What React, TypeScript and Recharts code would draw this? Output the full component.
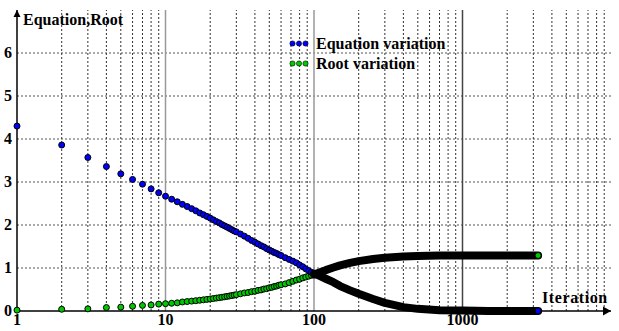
import React from "react";
import {
  ScatterChart,
  Scatter,
  XAxis,
  YAxis,
  ReferenceLine,
  ReferenceDot,
} from "recharts";

// iterations where the dots are still told apart (1 .. 100)
const ITER_DENSE = [
  1, 2, 3, 4, 5, 6, 7, 8, 9, 10, 11, 12, 13, 14, 15, 16, 17, 18, 19, 20, 21, 22, 23, 24, 25, 26, 27, 28, 29, 30,
  32, 34, 36, 38, 40, 42, 44, 46, 48, 50, 52, 54, 56, 58, 60,
  64, 68, 72, 76, 80, 84, 88, 92, 96, 100,
];
const EQ_DENSE = [
  4.3, 3.86, 3.57, 3.36, 3.19, 3.06, 2.95, 2.84, 2.75, 2.67, 2.6, 2.54, 2.48, 2.43, 2.38, 2.33, 2.28, 2.24, 2.2, 2.16,
  2.12, 2.08, 2.05, 2.01, 1.98, 1.95, 1.92, 1.89, 1.86, 1.84,
  1.79, 1.74, 1.69, 1.64, 1.6, 1.56, 1.52, 1.49, 1.45, 1.42, 1.39, 1.36, 1.34, 1.31, 1.29,
  1.24, 1.2, 1.16, 1.12, 1.07, 1.03, 0.98, 0.94, 0.9, 0.87,
];
const ROOT_DENSE = [
  0.02, 0.04, 0.05, 0.08, 0.09, 0.11, 0.13, 0.14, 0.16, 0.17, 0.18, 0.19, 0.21, 0.22, 0.23, 0.24, 0.25, 0.26, 0.27, 0.28,
  0.29, 0.3, 0.31, 0.32, 0.33, 0.34, 0.35, 0.36, 0.37, 0.38,
  0.4, 0.42, 0.43, 0.45, 0.46, 0.48, 0.49, 0.51, 0.52, 0.54, 0.55, 0.57, 0.58, 0.6, 0.61,
  0.63, 0.66, 0.69, 0.72, 0.74, 0.77, 0.79, 0.81, 0.83, 0.85,
];

// beyond 100 the markers merge into a solid black band
const ITER_TAIL = [100, 110, 120, 135, 150, 175, 200, 250, 300, 400, 500, 700, 1000, 1500, 2000, 3230];
const EQ_TAIL = [0.87, 0.81, 0.75, 0.67, 0.58, 0.48, 0.4, 0.28, 0.19, 0.09, 0.05, 0.02, 0.01, 0, 0, 0];
const ROOT_TAIL = [0.85, 0.9, 0.95, 1.01, 1.06, 1.12, 1.16, 1.21, 1.24, 1.27, 1.28, 1.29, 1.29, 1.29, 1.29, 1.29];

const X_TICKS = [1, 10, 100, 1000];
const Y_TICKS = [0, 1, 2, 3, 4, 5, 6];
const X_MINOR = [
  2, 3, 4, 5, 6, 7, 8, 9, 20, 30, 40, 50, 60, 70, 80, 90,
  200, 300, 400, 500, 600, 700, 800, 900, 2000, 3000, 4000, 5000, 6000, 7000, 8000, 9000,
];
const X_DECADES = [10, 100, 1000];
const Y_GRID = [1, 2, 3, 4, 5, 6];

const FONT = '"Liberation Serif", "Times New Roman", serif';
const BLUE = "#0000ff";
const GREEN = "#00c800";

const SERIES = [
  { name: "Equation variation", color: BLUE },
  { name: "Root variation", color: GREEN },
];

const toPoints = (xs: number[], ys: number[]) => xs.map((x, i) => ({ x, y: ys[i] }));

const dot = (fill: string) => (p: any) => (
  <circle cx={p.cx} cy={p.cy} r={3} fill={fill} stroke="#000" strokeWidth={1} />
);

const XTick = (p: any) => (
  <text x={p.x} y={p.y + 14} textAnchor="middle" fontFamily={FONT} fontWeight="bold" fontSize={16} fill="#000">
    {p.payload.value}
  </text>
);

const YTick = (p: any) => (
  <text x={p.x - 2} y={p.y + 5} textAnchor="end" fontFamily={FONT} fontWeight="bold" fontSize={16} fill="#000">
    {p.payload.value}
  </text>
);

export default function App() {
  const eqDense = toPoints(ITER_DENSE, EQ_DENSE);
  const rootDense = toPoints(ITER_DENSE, ROOT_DENSE);
  const eqTail = toPoints(ITER_TAIL, EQ_TAIL);
  const rootTail = toPoints(ITER_TAIL, ROOT_TAIL);

  return (
    <div style={{ position: "absolute", left: 0, top: 0, width: 619, height: 331, background: "#fff" }}>
      <ScatterChart width={619} height={331} margin={{ top: 10, right: 8, bottom: 0, left: 0 }}>
        <XAxis
          type="number"
          dataKey="x"
          scale="log"
          domain={[1, 10000]}
          ticks={X_TICKS}
          interval={0}
          height={20}
          tickSize={0}
          tickMargin={0}
          tickLine={false}
          axisLine={{ stroke: "#000", strokeWidth: 1.5 }}
          tick={XTick}
        />
        <YAxis
          type="number"
          dataKey="y"
          domain={[0, 7]}
          ticks={Y_TICKS}
          interval={0}
          width={17}
          tickSize={0}
          tickMargin={3}
          tickLine={false}
          axisLine={{ stroke: "#000", strokeWidth: 1.5 }}
          tick={YTick}
        />

        {Y_GRID.map((v) => (
          <ReferenceLine key={"h" + v} y={v} stroke="#555" strokeDasharray="2 2" />
        ))}
        {X_MINOR.map((v) => (
          <ReferenceLine key={"v" + v} x={v} stroke="#333" strokeDasharray="2 2" />
        ))}
        {X_DECADES.map((v) => (
          <ReferenceLine key={"d" + v} x={v} stroke={v === 1000 ? "#444" : "#999"} strokeWidth={1.5} />
        ))}

        <Scatter name="Root variation" data={rootDense} shape={dot(GREEN)} isAnimationActive={false} />
        <Scatter name="Equation variation" data={eqDense} shape={dot(BLUE)} isAnimationActive={false} />
        <Scatter
          data={rootTail}
          line={{ stroke: "#000", strokeWidth: 8, strokeLinejoin: "round", strokeLinecap: "round" }}
          shape={() => <g />}
          legendType="none"
          isAnimationActive={false}
        />
        <Scatter
          data={eqTail}
          line={{ stroke: "#000", strokeWidth: 8, strokeLinejoin: "round", strokeLinecap: "round" }}
          shape={() => <g />}
          legendType="none"
          isAnimationActive={false}
        />
        <Scatter data={rootTail.slice(-1)} shape={dot(GREEN)} legendType="none" isAnimationActive={false} />
        <Scatter data={eqTail.slice(-1)} shape={dot(BLUE)} legendType="none" isAnimationActive={false} />

        <ReferenceDot
          x={10000}
          y={0}
          ifOverflow="visible"
          shape={(p: any) => (
            <g>
              <polygon points={`${p.cx},${p.cy} ${p.cx - 8},${p.cy - 4.5} ${p.cx - 8},${p.cy + 4.5}`} fill="#000" />
              <text x={p.cx - 69} y={p.cy - 8} fontFamily={FONT} fontWeight="bold" fontSize={16} letterSpacing={0.6} fill="#000">
                Iteration
              </text>
            </g>
          )}
        />
        <ReferenceDot
          x={1}
          y={7}
          ifOverflow="visible"
          shape={(p: any) => (
            <g>
              <polygon points={`${p.cx},${p.cy} ${p.cx - 3.5},${p.cy + 7} ${p.cx + 3.5},${p.cy + 7}`} fill="#000" />
              <text x={p.cx + 6} y={p.cy + 15} fontFamily={FONT} fontWeight="bold" fontSize={16} fill="#000">
                Equation,Root
              </text>
            </g>
          )}
        />
      </ScatterChart>

      <div
        style={{
          position: "absolute",
          left: 288,
          top: 34,
          fontFamily: FONT,
          fontWeight: "bold",
          fontSize: 16,
          lineHeight: "20px",
          color: "#000",
        }}
      >
        {SERIES.map((s) => (
          <div key={s.name} style={{ display: "flex", alignItems: "center", height: 20 }}>
            <svg width={28} height={20}>
              {[4.5, 11, 17.5].map((cx) => (
                <circle key={cx} cx={cx} cy={9.5} r={2.6} fill={s.color} stroke="#000" strokeWidth={0.6} />
              ))}
            </svg>
            <span>{s.name}</span>
          </div>
        ))}
      </div>
    </div>
  );
}
